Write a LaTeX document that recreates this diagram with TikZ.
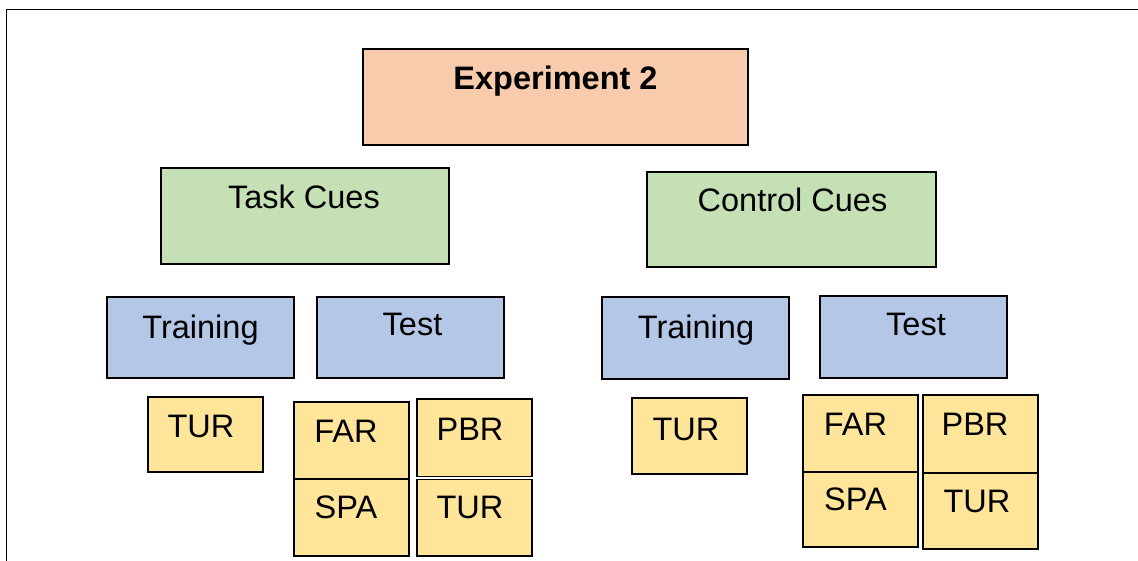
\documentclass[tikz,border=0pt]{standalone}
\usepackage{fontspec}
\setmainfont{Liberation Sans}
\definecolor{cexp}{HTML}{F8CBAD}
\definecolor{ccue}{HTML}{C5E0B4}
\definecolor{cphase}{HTML}{B4C7E7}
\definecolor{ccond}{HTML}{FFE599}
\tikzset{
  box/.style={draw=black, line width=1.2pt, rectangle, inner sep=0pt, outer sep=0pt},
  lbl/.style={inner sep=0pt, anchor=base, font=\fontsize{32.5}{38}\selectfont},
  frame/.style={draw=black, line width=1.6pt}
}
\begin{document}
\begin{tikzpicture}[x=1pt, y=-1pt]
\useasboundingbox (0,0) rectangle (1138,561);
\coordinate (fa) at (6.5,561);
\coordinate (fb) at (6.5,9.5);
\coordinate (fc) at (1138,9.5);
\draw[frame] (fa) -- (fb) -- (fc);

% level 0
\node[box, fill=cexp, minimum width=385pt, minimum height=96pt] (exp) at (555.5,97) {};
\node[lbl, font=\fontsize{32.5}{38}\selectfont\bfseries] (expt) at (555.5,90) {Experiment 2};

% level 1
\node[box, fill=ccue, minimum width=288pt, minimum height=96pt] (task) at (305,216) {};
\node[lbl] (taskt) at (304,209) {Task Cues};
\node[box, fill=ccue, minimum width=289pt, minimum height=95pt] (ctrl) at (791.5,219.5) {};
\node[lbl] (ctrlt) at (792.5,212) {Control Cues};

% level 2
\node[box, fill=cphase, minimum width=187pt, minimum height=81pt] (trL) at (200.5,337.5) {};
\node[lbl] (trLt) at (200.5,338) {Training};
\node[box, fill=cphase, minimum width=187pt, minimum height=81pt] (teL) at (410.5,337.5) {};
\node[lbl] (teLt) at (412.5,336) {Test};
\node[box, fill=cphase, minimum width=187pt, minimum height=82pt] (trR) at (695.5,338) {};
\node[lbl] (trRt) at (696,338) {Training};
\node[box, fill=cphase, minimum width=187pt, minimum height=82pt] (teR) at (913.5,337) {};
\node[lbl] (teRt) at (916,336) {Test};

% level 3
\node[box, fill=ccond, minimum width=115pt, minimum height=75pt] (turA) at (205.5,434.5) {};
\node[lbl] (turAt) at (201,437) {TUR};
\node[box, fill=ccond, minimum width=115pt, minimum height=76pt] (turB) at (689.5,436) {};
\node[lbl] (turBt) at (686,440) {TUR};

\node[box, fill=ccond, minimum width=115pt, minimum height=77pt] (farL) at (351.5,440.5) {};
\node[lbl] (farLt) at (346,442) {FAR};
\node[box, fill=ccond, minimum width=115pt, minimum height=77pt] (spaL) at (351.5,517.5) {};
\node[lbl] (spaLt) at (346,518) {SPA};
\node[box, fill=ccond, minimum width=115pt, minimum height=77.5pt] (pbrL) at (474.5,437.75) {};
\node[lbl] (pbrLt) at (470,440) {PBR};
\node[box, fill=ccond, minimum width=115pt, minimum height=76.5pt] (turL) at (474.5,517.75) {};
\node[lbl] (turLt) at (470,518) {TUR};

\node[box, fill=ccond, minimum width=115pt, minimum height=77pt] (farR) at (860.5,433.5) {};
\node[lbl] (farRt) at (855.5,435) {FAR};
\node[box, fill=ccond, minimum width=115pt, minimum height=75pt] (spaR) at (860.5,509.5) {};
\node[lbl] (spaRt) at (855.5,510) {SPA};
\node[box, fill=ccond, minimum width=115pt, minimum height=78pt] (pbrR) at (980.5,434) {};
\node[lbl] (pbrRt) at (975,435) {PBR};
\node[box, fill=ccond, minimum width=115pt, minimum height=76pt] (turR) at (980.5,511) {};
\node[lbl] (turRt) at (977,512) {TUR};
\end{tikzpicture}
\end{document}
